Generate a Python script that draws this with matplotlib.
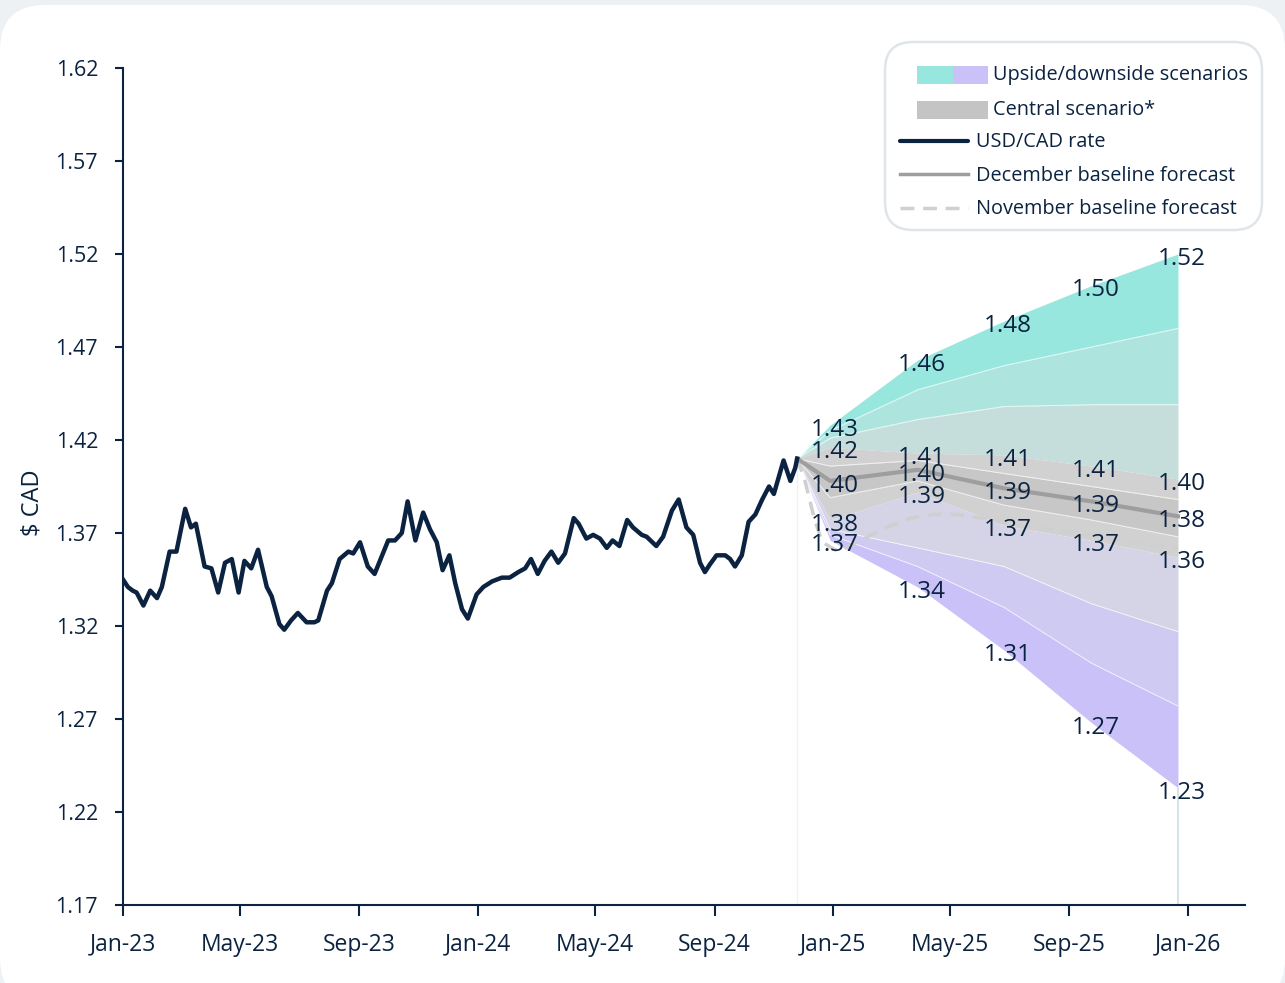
import matplotlib
matplotlib.use("Agg")
import matplotlib.pyplot as plt
import matplotlib.dates as mdates
import matplotlib.patches as mpatches
import matplotlib.transforms as mtransforms
import pandas as pd

plt.rcParams["font.family"] = ["Open Sans", "DejaVu Sans"]

NAVY = "#0b2341"

# USD/CAD history
hist_dates = [
    "2023-01-01", "2023-01-06", "2023-01-11", "2023-01-15", "2023-01-22", "2023-01-29",
    "2023-02-05", "2023-02-10", "2023-02-18", "2023-02-25", "2023-03-06", "2023-03-12",
    "2023-03-17", "2023-03-26", "2023-04-02", "2023-04-09", "2023-04-16", "2023-04-23",
    "2023-04-30", "2023-05-06", "2023-05-13", "2023-05-20", "2023-05-29", "2023-06-03",
    "2023-06-11", "2023-06-16", "2023-06-23", "2023-06-30", "2023-07-09", "2023-07-17",
    "2023-07-21", "2023-07-30", "2023-08-04", "2023-08-12", "2023-08-21", "2023-08-26",
    "2023-09-02", "2023-09-10", "2023-09-17", "2023-09-24", "2023-10-01", "2023-10-08",
    "2023-10-15", "2023-10-21", "2023-10-29", "2023-11-06", "2023-11-13", "2023-11-20",
    "2023-11-26", "2023-12-03", "2023-12-09", "2023-12-16", "2023-12-22", "2023-12-31",
    "2024-01-07", "2024-01-16", "2024-01-26", "2024-02-03", "2024-02-12", "2024-02-19",
    "2024-02-25", "2024-03-03", "2024-03-10", "2024-03-17", "2024-03-24", "2024-03-31",
    "2024-04-09", "2024-04-14", "2024-04-22", "2024-04-29", "2024-05-06", "2024-05-13",
    "2024-05-19", "2024-05-26", "2024-06-03", "2024-06-09", "2024-06-18", "2024-06-23",
    "2024-07-03", "2024-07-10", "2024-07-19", "2024-07-26", "2024-08-03", "2024-08-10",
    "2024-08-17", "2024-08-22", "2024-08-27", "2024-09-03", "2024-09-12", "2024-09-17",
    "2024-09-22", "2024-09-29", "2024-10-06", "2024-10-13", "2024-10-20", "2024-10-27",
    "2024-11-01", "2024-11-06", "2024-11-11", "2024-11-18", "2024-11-23", "2024-11-25",
]
hist_vals = [
    1.345, 1.341, 1.339, 1.338, 1.331, 1.339,
    1.335, 1.341, 1.360, 1.360, 1.383, 1.373,
    1.375, 1.352, 1.351, 1.338, 1.354, 1.356,
    1.338, 1.355, 1.351, 1.361, 1.341, 1.336,
    1.321, 1.318, 1.323, 1.327, 1.322, 1.322,
    1.323, 1.339, 1.343, 1.356, 1.360, 1.359,
    1.365, 1.352, 1.348, 1.357, 1.366, 1.366,
    1.370, 1.387, 1.366, 1.381, 1.372, 1.365,
    1.350, 1.358, 1.343, 1.329, 1.324, 1.337,
    1.341, 1.344, 1.346, 1.346, 1.349, 1.351,
    1.356, 1.348, 1.355, 1.360, 1.354, 1.359,
    1.378, 1.375, 1.367, 1.369, 1.367, 1.362,
    1.366, 1.363, 1.377, 1.373, 1.369, 1.368,
    1.363, 1.368, 1.382, 1.388, 1.373, 1.369,
    1.354, 1.349, 1.353, 1.358, 1.358, 1.356,
    1.352, 1.358, 1.376, 1.380, 1.388, 1.395,
    1.391, 1.400, 1.409, 1.398, 1.405, 1.410,
]

# forecast fan (start point + quarterly points)
fan_dates = ["2024-11-25", "2024-12-29", "2025-03-29", "2025-06-26", "2025-09-24", "2025-12-22"]
up3 = [1.41, 1.428, 1.463, 1.484, 1.503, 1.520]
up2 = [1.41, 1.425, 1.447, 1.460, 1.470, 1.480]
up1 = [1.41, 1.421, 1.431, 1.438, 1.439, 1.439]
c_hi = [1.41, 1.416, 1.413, 1.412, 1.406, 1.399]
c_hi_in = [1.41, 1.406, 1.409, 1.402, 1.395, 1.388]
central = [1.41, 1.398, 1.404, 1.394, 1.387, 1.379]
c_lo_in = [1.41, 1.389, 1.398, 1.385, 1.377, 1.368]
c_lo = [1.41, 1.377, 1.392, 1.374, 1.366, 1.357]
lo1 = [1.41, 1.372, 1.362, 1.352, 1.332, 1.317]
lo2 = [1.41, 1.369, 1.352, 1.330, 1.300, 1.277]
lo3 = [1.41, 1.366, 1.341, 1.307, 1.268, 1.233]

# November baseline forecast
nov_dates = ["2024-11-25", "2024-12-03", "2024-12-13", "2024-12-21", "2025-01-06", "2025-01-25",
             "2025-02-21", "2025-03-21", "2025-04-14", "2025-05-08", "2025-06-04", "2025-07-23",
             "2025-09-12", "2025-11-03", "2025-12-22"]
nov_vals = [1.410, 1.398, 1.377, 1.365, 1.360, 1.365,
            1.372, 1.378, 1.380, 1.380, 1.378, 1.373,
            1.370, 1.365, 1.362]

hd = pd.to_datetime(hist_dates)
fd = pd.to_datetime(fan_dates)
nd = pd.to_datetime(nov_dates)

fig = plt.figure(figsize=(12.85, 9.83), dpi=100, facecolor="#eef1f3")
bg = mpatches.FancyBboxPatch((0, -20), 1285, 998, boxstyle="round,pad=0,rounding_size=45",
                             transform=mtransforms.IdentityTransform(),
                             facecolor="white", edgecolor="none", zorder=-10)
fig.patches.append(bg)

ax = fig.add_axes([123 / 1285, 78 / 983, 1122 / 1285, 837 / 983])
ax.set_facecolor("none")

# fan bands, top to bottom
bands = [
    (up3, up2, "#97e7df"),
    (up2, up1, "#ade4dd"),
    (up1, c_hi, "#c5dedb"),
    (c_hi, c_hi_in, "#d1d1d1"),
    (c_hi_in, central, "#c7c7c7"),
    (central, c_lo_in, "#c7c7c7"),
    (c_lo_in, c_lo, "#d1d1d1"),
    (c_lo, lo1, "#d5d3e6"),
    (lo1, lo2, "#cfcaf1"),
    (lo2, lo3, "#c9c1f8"),
]
for top, bot, col in bands:
    ax.fill_between(fd, top, bot, color=col, lw=0, zorder=1)
for edge in [up2, up1, c_hi_in, c_lo_in, lo1, lo2]:
    ax.plot(fd, edge, color="white", lw=0.7, alpha=0.7, zorder=2)

ax.vlines(fd[0], 1.17, 1.41, color="#edf3f3", lw=1, zorder=1)
ax.vlines(fd[-1], 1.17, lo3[-1], color="#d3e4ea", lw=1.5, zorder=1)

ax.plot(nd, nov_vals, color="#cfcfcf", lw=2.5, dashes=(4, 2.5), zorder=3)
ax.plot(fd, central, color="#9e9e9e", lw=3, zorder=4)
ax.plot(hd, hist_vals, color=NAVY, lw=3.2, solid_joinstyle="round", zorder=5)

# data labels
for i in range(1, len(fd)):
    for series in (up3, c_hi, central, c_lo, lo3):
        ax.annotate(f"{series[i]:.2f}", (fd[i], series[i]), xytext=(3, -3.5),
                    textcoords="offset points", ha="center", va="center",
                    fontsize=17.5, color=NAVY, zorder=6)

ax.set_xlim(pd.Timestamp("2023-01-01"), pd.Timestamp("2026-03-01"))
ax.set_ylim(1.17, 1.62)
ax.set_yticks([1.17 + 0.05 * k for k in range(10)])
ax.yaxis.set_major_formatter(plt.FuncFormatter(lambda v, p: f"{v:.2f}"))
ax.set_xticks(pd.date_range("2023-01-01", "2026-01-01", freq="4MS"))
ax.xaxis.set_major_formatter(mdates.DateFormatter("%b-%y"))

for s in ["top", "right"]:
    ax.spines[s].set_visible(False)
for s in ["left", "bottom"]:
    ax.spines[s].set_color(NAVY)
    ax.spines[s].set_linewidth(1.5)
ax.tick_params(axis="y", direction="out", length=6, width=1.5, color=NAVY,
               labelcolor=NAVY, labelsize=15.5, pad=12)
ax.tick_params(axis="x", direction="out", length=8, width=1.5, color=NAVY,
               labelcolor=NAVY, labelsize=16.5, pad=12)

fig.text(32 / 1285, 1 - 503 / 983, "\\$ CAD", rotation=90, ha="center", va="center",
         fontsize=17, color=NAVY)

# legend drawn in pixel space
lax = fig.add_axes([0, 0, 1, 1])
lax.set_xlim(0, 1285)
lax.set_ylim(983, 0)
lax.axis("off")
lax.add_patch(mpatches.FancyBboxPatch((885, 42), 377, 188, boxstyle="round,pad=0,rounding_size=28",
                                      facecolor="white", edgecolor="#dfe5e8", lw=1.8))
lax.add_patch(mpatches.Rectangle((917, 66), 36, 18, color="#97e7df", lw=0))
lax.add_patch(mpatches.Rectangle((953, 66), 35, 18, color="#c9c1f8", lw=0))
lax.add_patch(mpatches.Rectangle((917, 101), 71, 18, color="#c4c4c4", lw=0))
lax.plot([900, 968], [141, 141], color=NAVY, lw=3, solid_capstyle="round")
lax.plot([900, 968], [174, 174], color="#9e9e9e", lw=2.5)
lax.plot([900, 968], [208, 208], color="#d0d0d0", lw=2.5, dashes=(4, 2.5))
leg_text = [(993, 75, "Upside/downside scenarios"), (993, 110, "Central scenario*"),
            (976, 142, "USD/CAD rate"), (976, 176, "December baseline forecast"),
            (976, 209, "November baseline forecast")]
for x, y, t in leg_text:
    lax.text(x, y, t, ha="left", va="center", fontsize=14.3, color=NAVY)

fig.savefig("out.png", dpi=100, facecolor=fig.get_facecolor())
